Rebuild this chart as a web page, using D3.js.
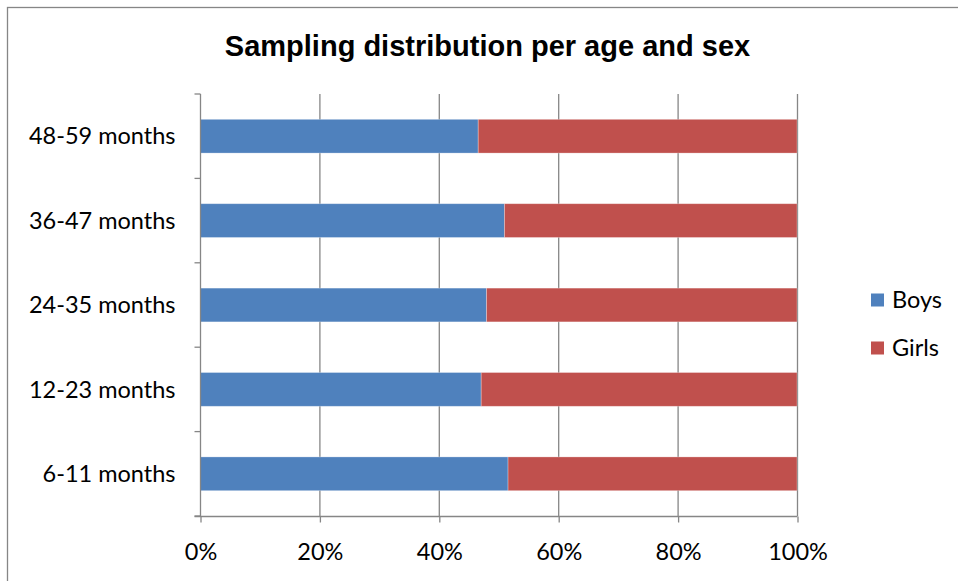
<!DOCTYPE html>
<html>
<head>
<meta charset="utf-8">
<script src="https://cdn.jsdelivr.net/npm/d3@7"></script>
<style>
  html, body { margin: 0; padding: 0; background: #fff; }
  svg { display: block; }
</style>
</head>
<body>
<svg id="chart" width="958" height="581"></svg>
<script>
// Age groups, bottom to top as listed on the axis
const categories = ["6-11 months", "12-23 months", "24-35 months", "36-47 months", "48-59 months"];
// Share of boys in each age group (percent); girls make up the rest
const boys = [51.6, 47.1, 48.0, 51.0, 46.6];
const girls = [48.4, 52.9, 52.0, 49.0, 53.4];
const seriesNames = ["Boys", "Girls"];
const seriesColors = ["#4F81BD", "#C0504D"];
const xTicks = [0, 20, 40, 60, 80, 100];

const svg = d3.select("#chart");
const labelFont = "Lato, 'Open Sans', sans-serif";
const labelSize = 23.5;

// Chart frame
svg.append("rect")
  .attr("x", 7.5).attr("y", 7.5)
  .attr("width", 960).attr("height", 590)
  .attr("fill", "#fff").attr("stroke", "#868686").attr("stroke-width", 1.3);

// Title
svg.append("text")
  .attr("x", 487.5).attr("y", 56)
  .attr("text-anchor", "middle")
  .attr("font-family", "'Liberation Sans', Arial, sans-serif")
  .attr("font-weight", "bold")
  .attr("font-size", 29)
  .attr("fill", "#000")
  .text("Sampling distribution per age and sex");

const plot = { left: 200, right: 797, top: 94, bottom: 516 };

const x = d3.scaleLinear().domain([0, 100]).range([plot.left, plot.right]);
// Top of the axis shows the last category
const y = d3.scaleBand()
  .domain(categories.slice().reverse())
  .range([plot.top, plot.bottom])
  .paddingInner(0.6).paddingOuter(0.3);

// Vertical gridlines
svg.append("g")
  .selectAll("line")
  .data(xTicks.slice(1))
  .join("line")
  .attr("x1", d => x(d) + 0.5).attr("x2", d => x(d) + 0.5)
  .attr("y1", plot.top).attr("y2", plot.bottom)
  .attr("stroke", "#868686").attr("stroke-width", 1.3);

// Stacked bars
const rows = categories.map((c, i) => ({ cat: c, vals: [boys[i], girls[i]] }));
const stackG = svg.append("g");
rows.forEach(r => {
  let acc = 0;
  r.vals.forEach((v, k) => {
    stackG.append("rect")
      .attr("x", x(acc))
      .attr("y", y(r.cat))
      .attr("width", x(acc + v) - x(acc))
      .attr("height", y.bandwidth())
      .attr("fill", seriesColors[k])
      .attr("stroke", "rgba(255,255,255,0.35)")
      .attr("stroke-width", 0.8);
    acc += v;
  });
});

// Category axis (left)
const yAxisG = svg.append("g").attr("transform", `translate(${plot.left + 0.5},0)`);
yAxisG.append("line")
  .attr("x1", 0).attr("x2", 0).attr("y1", plot.top).attr("y2", plot.bottom)
  .attr("stroke", "#868686").attr("stroke-width", 1.3);
const step = (plot.bottom - plot.top) / categories.length;
yAxisG.selectAll("line.tick")
  .data(d3.range(categories.length + 1))
  .join("line").attr("class", "tick")
  .attr("x1", -6).attr("x2", 0)
  .attr("y1", i => plot.top + i * step).attr("y2", i => plot.top + i * step)
  .attr("stroke", "#868686").attr("stroke-width", 1.3);
yAxisG.selectAll("text")
  .data(categories)
  .join("text")
  .attr("x", -25)
  .attr("y", d => y(d) + y.bandwidth() / 2)
  .attr("dy", "0.35em")
  .attr("text-anchor", "end")
  .attr("font-family", labelFont)
  .attr("font-size", labelSize)
  .attr("fill", "#000")
  .text(d => d);

// Value axis (bottom)
const xAxis = d3.axisBottom(x)
  .tickValues(xTicks)
  .tickFormat(d => d + "%")
  .tickSize(6)
  .tickSizeOuter(0);
const xAxisG = svg.append("g")
  .attr("transform", `translate(0.5,${plot.bottom + 0.5})`)
  .call(xAxis);
xAxisG.select(".domain").attr("d", `M${plot.left - 6},0H${plot.right}`)
  .attr("stroke", "#868686").attr("stroke-width", 1.3);
xAxisG.selectAll(".tick line").attr("stroke", "#868686").attr("stroke-width", 1.3);
xAxisG.selectAll(".tick text")
  .attr("y", 35)
  .attr("dy", "0.35em")
  .attr("font-family", labelFont)
  .attr("font-size", labelSize)
  .attr("fill", "#000");

// Legend
const legend = svg.append("g");
seriesNames.forEach((name, i) => {
  const cy = 300 + i * 48;
  legend.append("rect")
    .attr("x", 871).attr("y", cy - 6.5)
    .attr("width", 13).attr("height", 13)
    .attr("fill", seriesColors[i]);
  legend.append("text")
    .attr("x", 892).attr("y", cy)
    .attr("dy", "0.35em")
    .attr("font-family", labelFont)
    .attr("font-size", labelSize)
    .attr("fill", "#000")
    .text(name);
});
</script>
</body>
</html>
